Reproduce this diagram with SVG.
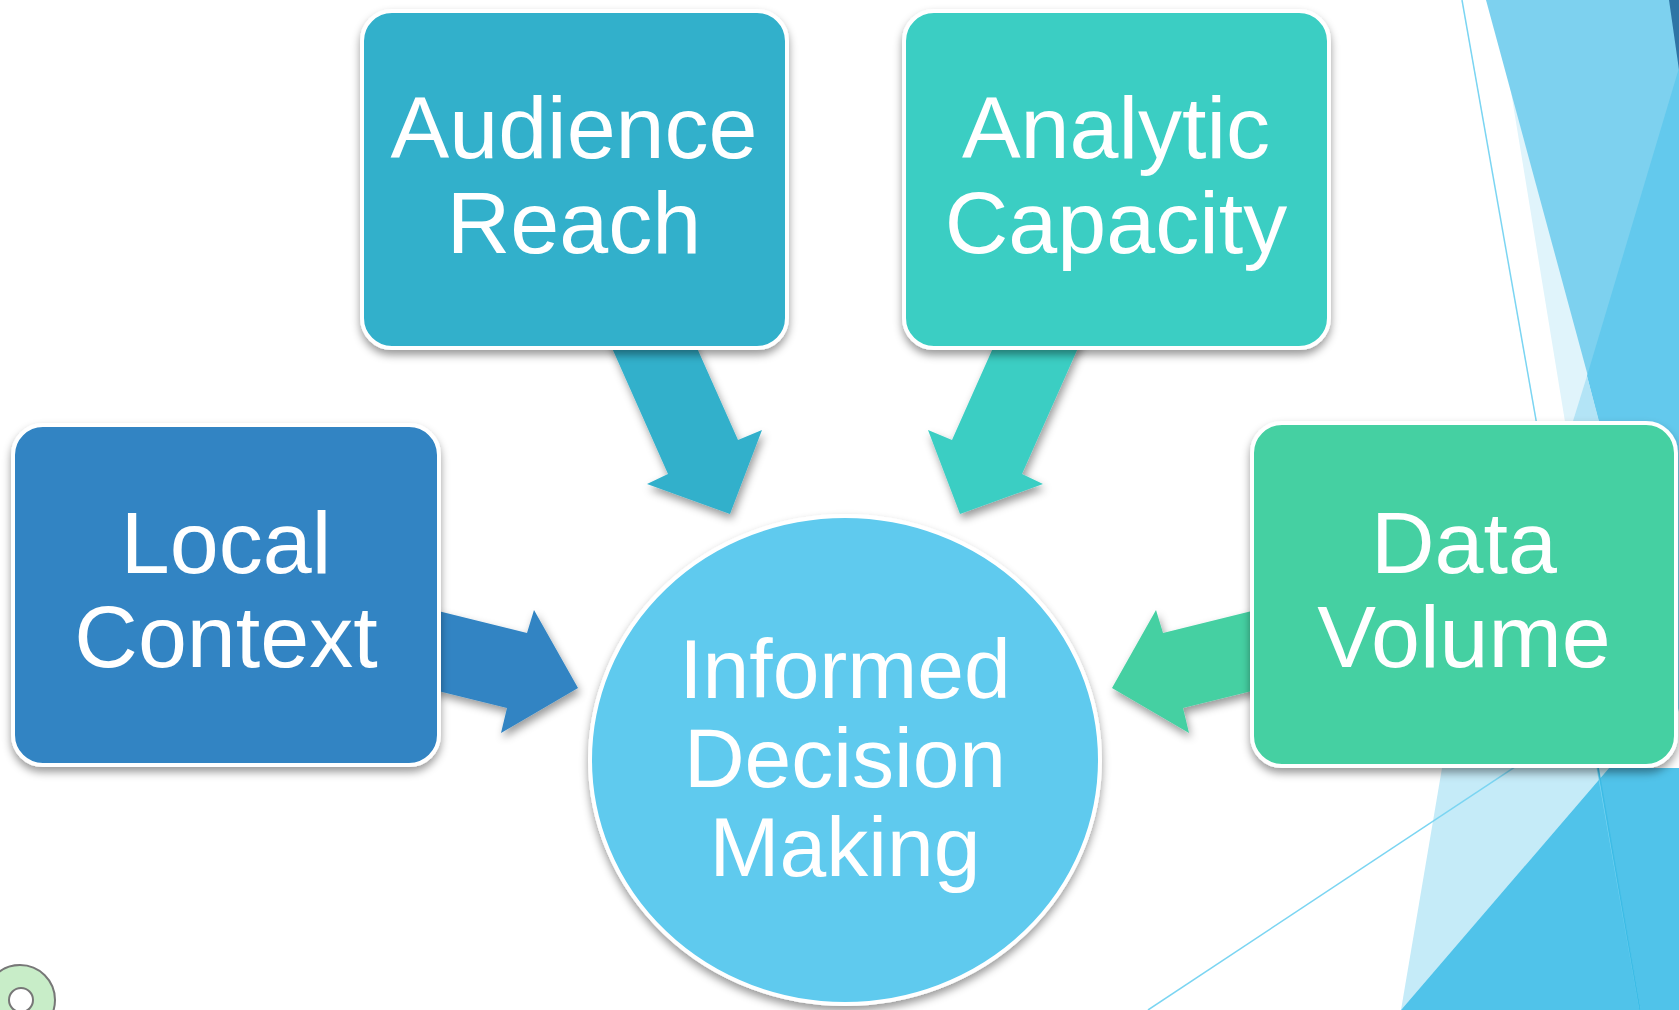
<svg xmlns="http://www.w3.org/2000/svg" width="1679" height="1010" viewBox="0 0 1679 1010">
<defs>
<filter id="sh" x="-10%" y="-10%" width="120%" height="125%">
<feDropShadow dx="0" dy="5" stdDeviation="4" flood-color="#000" flood-opacity="0.4"/>
</filter>
<filter id="ash" x="-20%" y="-20%" width="140%" height="140%">
<feDropShadow dx="2" dy="5" stdDeviation="4" flood-color="#000" flood-opacity="0.4"/>
</filter>
<style>
.box{stroke:#fff;stroke-width:4;filter:url(#sh)}
.lbl{font-family:"Liberation Sans",Arial,sans-serif;font-size:88px;fill:#fff;text-anchor:middle}
.clbl{font-family:"Liberation Sans",Arial,sans-serif;font-size:84px;fill:#fff;text-anchor:middle}
.arr{filter:url(#ash)}
</style>
</defs>
<rect width="1679" height="1010" fill="#fff"/>
<g id="background">
<polygon points="1496,0 1610,0 1610,440 1568,440" fill="#E0F4FB"/>
<polygon points="1486,0 1679,0 1679,712" fill="#7DD1EF"/>
<polygon points="1679,68 1587,376 1606,450 1679,450" fill="#63C9ED"/>
<polygon points="1587,376 1573,421 1599,421" fill="#B3E4F6"/>
<polygon points="1669,0 1679,0 1679,70" fill="#2E75A5"/>
<polygon points="1442,768 1609,768 1401,1010" fill="#C5EBF8"/>
<polygon points="1609,768 1679,768 1679,1010 1401,1010" fill="#50C3EA"/>
<line x1="1462" y1="0" x2="1640" y2="1010" stroke="#7BD5F2" stroke-width="1.5"/>
<line x1="1598" y1="767" x2="1640" y2="1010" stroke="#3DBCE6" stroke-width="1.5"/>
<line x1="1530" y1="757" x2="1148" y2="1010" stroke="#7BD5F2" stroke-width="1.5"/>
<circle cx="20" cy="1000" r="35" fill="#C8EDC8" stroke="#777" stroke-width="2"/>
<circle cx="21" cy="1000" r="12" fill="#fff" stroke="#777" stroke-width="2"/>
</g>
<g id="connectors">
<polygon class="arr" points="604,330 689,330 738,440 762,430 730,514 647,484 668,474" fill="#31B0CB"/>
<polygon class="arr" points="1086,330 1001,330 952,440 928,430 960,514 1043,484 1022,474" fill="#3BCEC3"/>
<polygon class="arr" points="430,609 527,633 534,610 578,688 501,733 507,708 430,689" fill="#3084C3"/>
<polygon class="arr" points="1260,609 1163,633 1156,610 1112,688 1189,733 1183,708 1260,689" fill="#44D0A2"/>
</g>
<g id="audience-reach">
<rect class="box" x="362" y="11" width="425" height="337" rx="30" fill="#31B0CB"/>
<text class="lbl" x="574" y="158">Audience</text>
<text class="lbl" x="574" y="253">Reach</text>
</g>
<g id="analytic-capacity">
<rect class="box" x="904" y="11" width="425" height="337" rx="30" fill="#3BCEC3"/>
<text class="lbl" x="1116" y="158">Analytic</text>
<text class="lbl" x="1116" y="253">Capacity</text>
</g>
<g id="local-context">
<rect class="box" x="13" y="425" width="426" height="340" rx="30" fill="#3084C3"/>
<text class="lbl" x="226" y="573">Local</text>
<text class="lbl" x="226" y="667">Context</text>
</g>
<g id="data-volume">
<rect class="box" x="1252" y="423" width="424" height="343" rx="30" fill="#44D0A2"/>
<text class="lbl" x="1464" y="573">Data</text>
<text class="lbl" x="1464" y="667">Volume</text>
</g>
<g id="informed-decision-making">
<ellipse class="box" cx="845" cy="760" rx="255" ry="244" fill="#5FCAEE"/>
<text class="clbl" x="845" y="698">Informed</text>
<text class="clbl" x="845" y="787">Decision</text>
<text class="clbl" x="845" y="876">Making</text>
</g>
</svg>
